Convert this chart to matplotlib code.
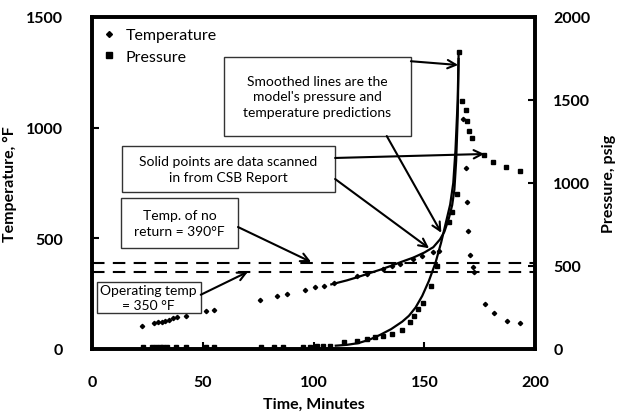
import matplotlib
matplotlib.use("Agg")
import matplotlib.pyplot as plt
from matplotlib.patches import Rectangle
from matplotlib.lines import Line2D

plt.rcParams['font.family'] = ['Lato', 'DejaVu Sans']

# scanned temperature data (minutes, degF)
temp_t = [22.4, 28.1, 30.0, 31.4, 33.0, 34.8, 36.4, 38.5, 42.4, 51.5, 55.2,
          76.0, 83.4, 87.9, 96.0, 100.7, 104.7, 109.0, 119.5, 124.0, 131.5,
          135.3, 139.0, 145.0, 148.8, 154.0, 156.4,
          167.6, 168.6, 169.3, 169.6, 170.6, 171.8, 172.5, 177.4, 181.5,
          187.2, 193.2]
temp_f = [102, 117, 120, 124, 128, 132, 138, 143, 148, 170, 178,
          220, 240, 248, 268, 279, 286, 298, 328, 339, 361,
          376, 384, 407, 419, 437, 444,
          1040, 818, 663, 532, 426, 369, 346, 203, 163,
          128, 116]

# scanned pressure data (minutes, psig)
pres_t = [23.2, 26.9, 28.9, 30.7, 32.2, 34.0, 37.9, 42.4, 51.5, 55.2,
          76.2, 82.2, 86.4, 95.1, 98.4, 101.4, 104.4, 107.5,
          113.5, 119.5, 124.0, 127.8, 131.5, 135.3, 139.8, 143.3, 145.5,
          147.3, 149.3, 152.9, 155.6, 160.9, 162.4, 164.6,
          165.4, 166.9, 168.8, 169.4, 170.3, 171.4, 176.7, 180.9, 186.9, 193.2]
pres_p = [12, 12, 12, 12, 12, 12, 12, 12, 12, 12,
          15, 15, 15, 15, 15, 18, 18, 20,
          40, 50, 60, 70, 80, 90, 116, 160, 200,
          241, 277, 381, 502, 763, 823, 934,
          1787, 1496, 1442, 1375, 1315, 1269, 1169, 1125, 1098, 1074]

# model predictions (smoothed lines)
model_temp_t = [108, 115, 120, 125, 130, 135, 140, 145, 150, 154, 157, 159,
                161, 162.5, 163.5, 164.3, 165, 165.4]
model_temp_f = [292, 310, 325, 342, 358, 376, 395, 413, 436, 460, 495, 530,
                590, 650, 720, 850, 1050, 1310]
model_pres_t = [110, 115, 120, 125, 130, 135, 140, 143, 146, 149, 152, 155,
                157.5, 160, 161.6, 163, 164, 165, 165.4]
model_pres_p = [20, 25, 35, 55, 85, 120, 165, 200, 250, 320, 410, 520,
                640, 780, 870, 1000, 1200, 1500, 1770]

no_return = 390
operating = 350

fig = plt.figure(figsize=(6.21, 4.14), dpi=100)
ax = fig.add_axes([0.148, 0.1546, 0.714, 0.802])
ax2 = ax.twinx()

ax.plot(temp_t, temp_f, 'D', color='black', markersize=2.2, linestyle='None')
ax2.plot(pres_t, pres_p, 's', color='black', markersize=3.0, linestyle='None')
ax.plot(model_temp_t, model_temp_f, '-', color='black', lw=1.6)
ax2.plot(model_pres_t, model_pres_p, '-', color='black', lw=1.6)

for lvl in (no_return, operating):
    ax.axhline(lvl, color='black', lw=1.5, dashes=(6, 4))

ax.set_xlim(0, 200)
ax.set_ylim(0, 1500)
ax2.set_ylim(0, 2000)
ax.set_xticks([0, 50, 100, 150, 200])
ax.set_yticks([0, 500, 1000, 1500])
ax2.set_yticks([0, 500, 1000, 1500, 2000])

for a in (ax, ax2):
    for s in a.spines.values():
        s.set_linewidth(2.6)
    a.tick_params(direction='in', length=5, width=1.5, labelsize=11.5)
    for lab in a.get_xticklabels() + a.get_yticklabels():
        lab.set_fontweight('bold')
ax.tick_params(axis='x', pad=19)
ax.tick_params(axis='y', pad=21)
ax2.tick_params(axis='y', pad=13)

ax.set_xlabel('Time, Minutes', fontsize=11.5, fontweight='bold', labelpad=5)
ax.set_ylabel('Temperature, °F', fontsize=11.5, fontweight='bold', labelpad=6)
ax2.set_ylabel('Pressure, psig', fontsize=11.5, fontweight='bold', labelpad=8)

handles = [Line2D([0], [0], marker='D', color='black', markersize=3, linestyle='None'),
           Line2D([0], [0], marker='s', color='black', markersize=4, linestyle='None')]
ax.legend(handles, ['Temperature', 'Pressure'], loc='upper left', frameon=False,
          fontsize=11.5, handlelength=0.8, handletextpad=0.6, labelspacing=0.45,
          borderaxespad=0.3)

# annotation boxes: (t0, t1, T0, T1, text)
boxes = [
    (59.6, 143.9, 962, 1320, "Smoothed lines are the\nmodel's pressure and\ntemperature predictions"),
    (13.4, 109.7, 709, 917, "Solid points are data scanned\nin from CSB Report"),
    (13.1, 65.9, 456, 682, "Temp. of no\nreturn = 390\u00b0F"),
    (2.1, 49.1, 163, 303, "Operating temp\n= 350 \u00b0F"),
]
for t0, t1, y0, y1, txt in boxes:
    ax.add_patch(Rectangle((t0, y0), t1 - t0, y1 - y0, fill=True, facecolor='white',
                           edgecolor='#333333', lw=1.0, zorder=4))
    ax.text((t0 + t1) / 2, (y0 + y1) / 2, txt, ha='center', va='center',
            fontsize=10, linespacing=1.35, zorder=5)

arrows = [
    ((143.9, 1300), (165.2, 1283)),
    ((133.0, 962), (157.6, 525)),
    ((109.7, 863), (177.0, 881)),
    ((109.7, 768), (152.1, 455)),
    ((65.9, 551), (98.9, 393)),
    ((49.1, 245), (70.4, 349)),
]
for tail, head in arrows:
    ax.annotate('', xy=head, xytext=tail, zorder=6,
                arrowprops=dict(arrowstyle='->,head_length=0.6,head_width=0.3',
                                color='black', lw=1.5, shrinkA=0, shrinkB=0))

fig.savefig('out.png', dpi=100)
